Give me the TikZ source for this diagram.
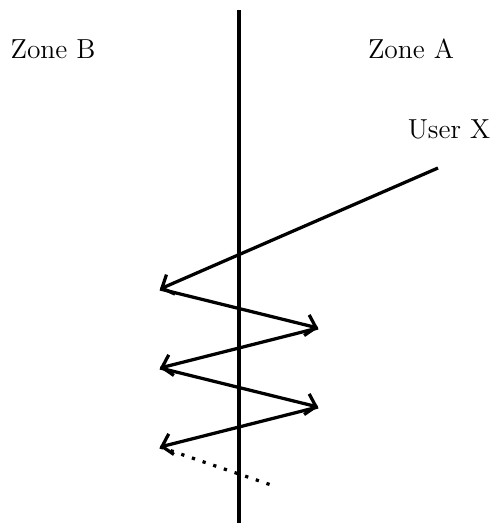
\documentclass[tikz,border=0pt]{standalone}
\usetikzlibrary{arrows.meta}
\begin{document}
\begin{tikzpicture}[x=0.4pt,y=-0.4pt,
  wall/.style={line width=1.3pt},
  hop/.style={line width=1.3pt,-{Straight Barb[length=3.8pt,width=8.5pt]}},
  trail/.style={line width=1.3pt,dash pattern=on 1.3pt off 3.2pt},
  lbl/.style={anchor=base,inner sep=0pt,font=\fontsize{11}{13}\selectfont}]
\useasboundingbox (0,0) rectangle (493,527);
\coordinate (top) at (239,10);
\coordinate (bot) at (239,523);
\draw[wall] (top) -- (bot);
\node[lbl] (zb) at (53,58) {Zone B};
\node[lbl] (za) at (411,58) {Zone A};
\node[lbl] (ux) at (449,138) {User X};
\coordinate (p0) at (438,168);
\coordinate (p1) at (160,289);
\coordinate (p2) at (318,328);
\coordinate (p3) at (160,368);
\coordinate (p4) at (318,407);
\coordinate (p5) at (160,447);
\coordinate (p6) at (277,487);
\draw[hop] (p0) -- (p1);
\draw[hop] (p1) -- (p2);
\draw[hop] (p2) -- (p3);
\draw[hop] (p3) -- (p4);
\draw[hop] (p4) -- (p5);
\draw[trail] (p5) -- (p6);
\end{tikzpicture}
\end{document}
